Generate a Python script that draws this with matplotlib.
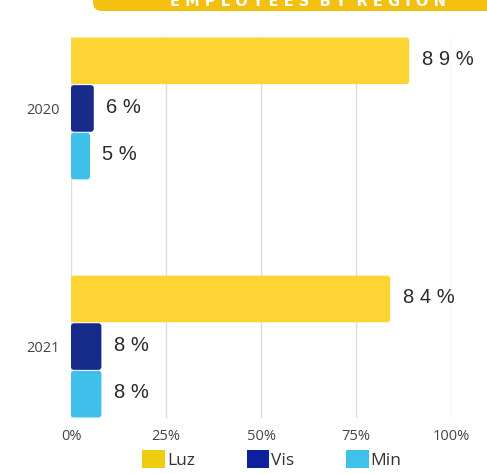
import matplotlib
matplotlib.use("Agg")
import matplotlib.pyplot as plt
from matplotlib.patches import FancyBboxPatch, Patch
import numpy as np

years = ["2020", "2021"]
series = ["Luz", "Vis", "Min"]
values = {
    "Luz": [89, 84],
    "Vis": [6, 8],
    "Min": [5, 8],
}
xticks = [0, 25, 50, 75, 100]
xtick_labels = ["0%", "25%", "50%", "75%", "100%"]
title = "EMPLOYEES BY REGION"

bar_colors = {"Luz": "#FCD535", "Vis": "#172B8A", "Min": "#3EC0EA"}
legend_colors = {"Luz": "#EECC0F", "Vis": "#0C1F9C", "Min": "#3EC1EA"}

plt.rcParams["font.family"] = ["Open Sans", "DejaVu Sans"]

W, H = 487, 474
fig = plt.figure(figsize=(W / 100, H / 100), dpi=100)
ax = fig.add_axes([71 / W, 1 - 418 / H, 380 / W, 381 / H])

bar_h = 0.2
y = np.arange(len(years))
offsets = [-bar_h, 0, bar_h]

ax.set_xlim(0, 100)
ax.set_ylim(1 + 1.5 * bar_h, -1.5 * bar_h)

# pixel-to-data ratio for rounded corners
px_x = 100 / 380
px_y = (1 + 3 * bar_h) / 381

for s, off in zip(series, offsets):
    bars = ax.barh(y + off, values[s], height=bar_h, color=bar_colors[s])
    for rect, v in zip(bars, values[s]):
        x0, y0 = rect.get_x(), rect.get_y()
        w, h = rect.get_width(), rect.get_height()
        rect.set_visible(False)
        gap = px_y * 0.5
        fb = FancyBboxPatch((x0, y0 + gap), w, h - 2 * gap,
                            boxstyle=f"round,pad=0,rounding_size={3 * px_x}",
                            mutation_aspect=px_y / px_x,
                            facecolor=bar_colors[s], edgecolor="none", zorder=3)
        ax.add_patch(fb)
        label = " ".join(list(str(v))) + " %"
        ax.annotate(label, (v, y0 + h / 2), xytext=(9, 1), textcoords="offset points",
                    va="center", ha="left", fontsize=14.5, color="#2A2A2A",
                    family=["Liberation Sans"], annotation_clip=False)

ax.set_xticks(xticks)
ax.set_xticklabels(xtick_labels)
ax.set_yticks(y)
ax.set_yticklabels(years)
ax.tick_params(axis="both", length=0, labelsize=10.5, labelcolor="#444444")
ax.tick_params(axis="y", pad=8)
ax.tick_params(axis="x", pad=8)
for sp in ax.spines.values():
    sp.set_visible(False)
ax.grid(axis="x", color="#DDDDDD", linewidth=1)
ax.set_axisbelow(True)

# title banner
banner = FancyBboxPatch((93 / W, 1 - 11 / H), 500 / W, 40 / H,
                        boxstyle=f"round,pad=0,rounding_size={9 / W}",
                        mutation_aspect=W / H,
                        transform=fig.transFigure, facecolor="#F3C00F",
                        edgecolor="none", clip_on=False)
fig.add_artist(banner)
spaced = "  ".join(" ".join(list(word)) for word in title.split())
fig.text(308 / W, 1 - 6 / H, spaced,
         ha="center", va="baseline", color="white", fontsize=10.5, fontweight="bold",
         family=["DejaVu Sans"])

handles = [Patch(facecolor=legend_colors[s], edgecolor="none", label=s) for s in series]
fig.legend(handles=handles, loc="lower center", bbox_to_anchor=(272 / W, -0.022), ncol=3,
           frameon=False, fontsize=12.5, handlelength=1.3, handleheight=1.3,
           handletextpad=0.1, columnspacing=3.0, labelcolor="#333333")

fig.savefig("out.png", dpi=100)
